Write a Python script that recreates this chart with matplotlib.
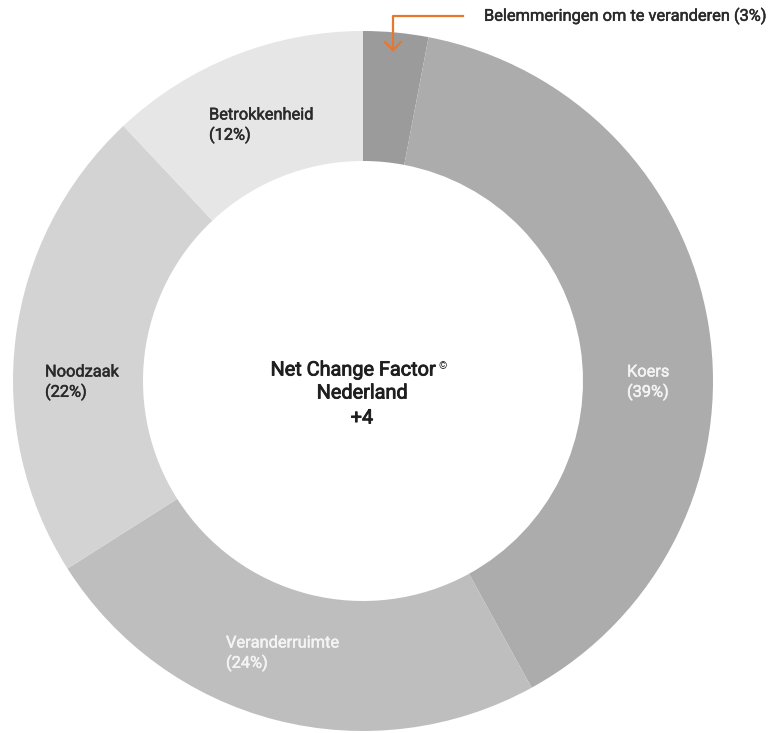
import matplotlib
matplotlib.use('Agg')
from matplotlib import pyplot as plt
from matplotlib.lines import Line2D
import matplotlib.patheffects as pe

# data
labels = ['Belemmeringen om te veranderen', 'Koers', 'Veranderruimte', 'Noodzaak', 'Betrokkenheid']
values = [3, 39, 24, 22, 12]
colors = ['#9b9b9b', '#acacac', '#bebebe', '#d3d3d4', '#e6e6e6']
center_lines = ['Net Change Factor', 'Nederland', '+4']

W, H = 774, 733
plt.rcParams['font.family'] = ['Roboto', 'DejaVu Sans']

fig = plt.figure(figsize=(W / 100, H / 100), dpi=100)
cx, cy, R = 363, 381, 350  # pixels, from top-left
ax = fig.add_axes([(cx - R) / W, (H - cy - R) / H, 2 * R / W, 2 * R / H])
ax.pie(values, colors=colors, startangle=90, counterclock=False,
       radius=1, wedgeprops=dict(width=1 - 220 / R, linewidth=0))
ax.set_xlim(-1, 1)
ax.set_ylim(-1, 1)
ax.set_aspect('equal')
ax.axis('off')


def fp(x, y):
    # pixel position (top-left origin) -> figure fraction
    return x / W, 1 - y / H


def med(c, w):
    # fake a "medium" weight
    return [pe.withStroke(linewidth=w, foreground=c)]


dark = '#2a2a2a'
light = '#f4f4f4'
fs = 11.8

# inner labels: (index, x, y of first line, colour)
lab_pos = [(1, 627, 372, light), (2, 226, 643, light), (3, 45, 372, dark), (4, 209, 115, dark)]
for i, x, y, c in lab_pos:
    fig.text(*fp(x, y), labels[i], color=c, fontsize=fs, ha='left', va='center',
             path_effects=med(c, 0.35))
    fig.text(*fp(x, y + 20), '(%d%%)' % values[i], color=c, fontsize=fs, ha='left', va='center',
             path_effects=med(c, 0.35))

# small slice label with orange arrow
fig.text(*fp(484, 16), '%s (%d%%)' % (labels[0], values[0]), color=dark, fontsize=fs,
         ha='left', va='center', path_effects=med(dark, 0.35))
orange = '#e8772e'
xs = [463, 393, 393]
ys = [16, 16, 50]
fig.add_artist(Line2D([x / W for x in xs], [1 - y / H for y in ys], color=orange, lw=1.6,
                      transform=fig.transFigure))
fig.add_artist(Line2D([385 / W, 393 / W, 401 / W], [1 - 42 / H, 1 - 50 / H, 1 - 42 / H],
                      color=orange, lw=1.6, transform=fig.transFigure))

# centre text
ink = '#1e1e1e'
for line, y in zip(center_lines, [370, 393, 418]):
    fig.text(*fp(353, y) if line == center_lines[0] else fp(362, y), line, color=ink,
             fontsize=14.3, ha='center', va='center', path_effects=med(ink, 0.6))
fig.text(*fp(443, 366), '\u00a9', color=ink, fontsize=7.5, ha='center', va='center')

fig.savefig('out.png', dpi=100)
